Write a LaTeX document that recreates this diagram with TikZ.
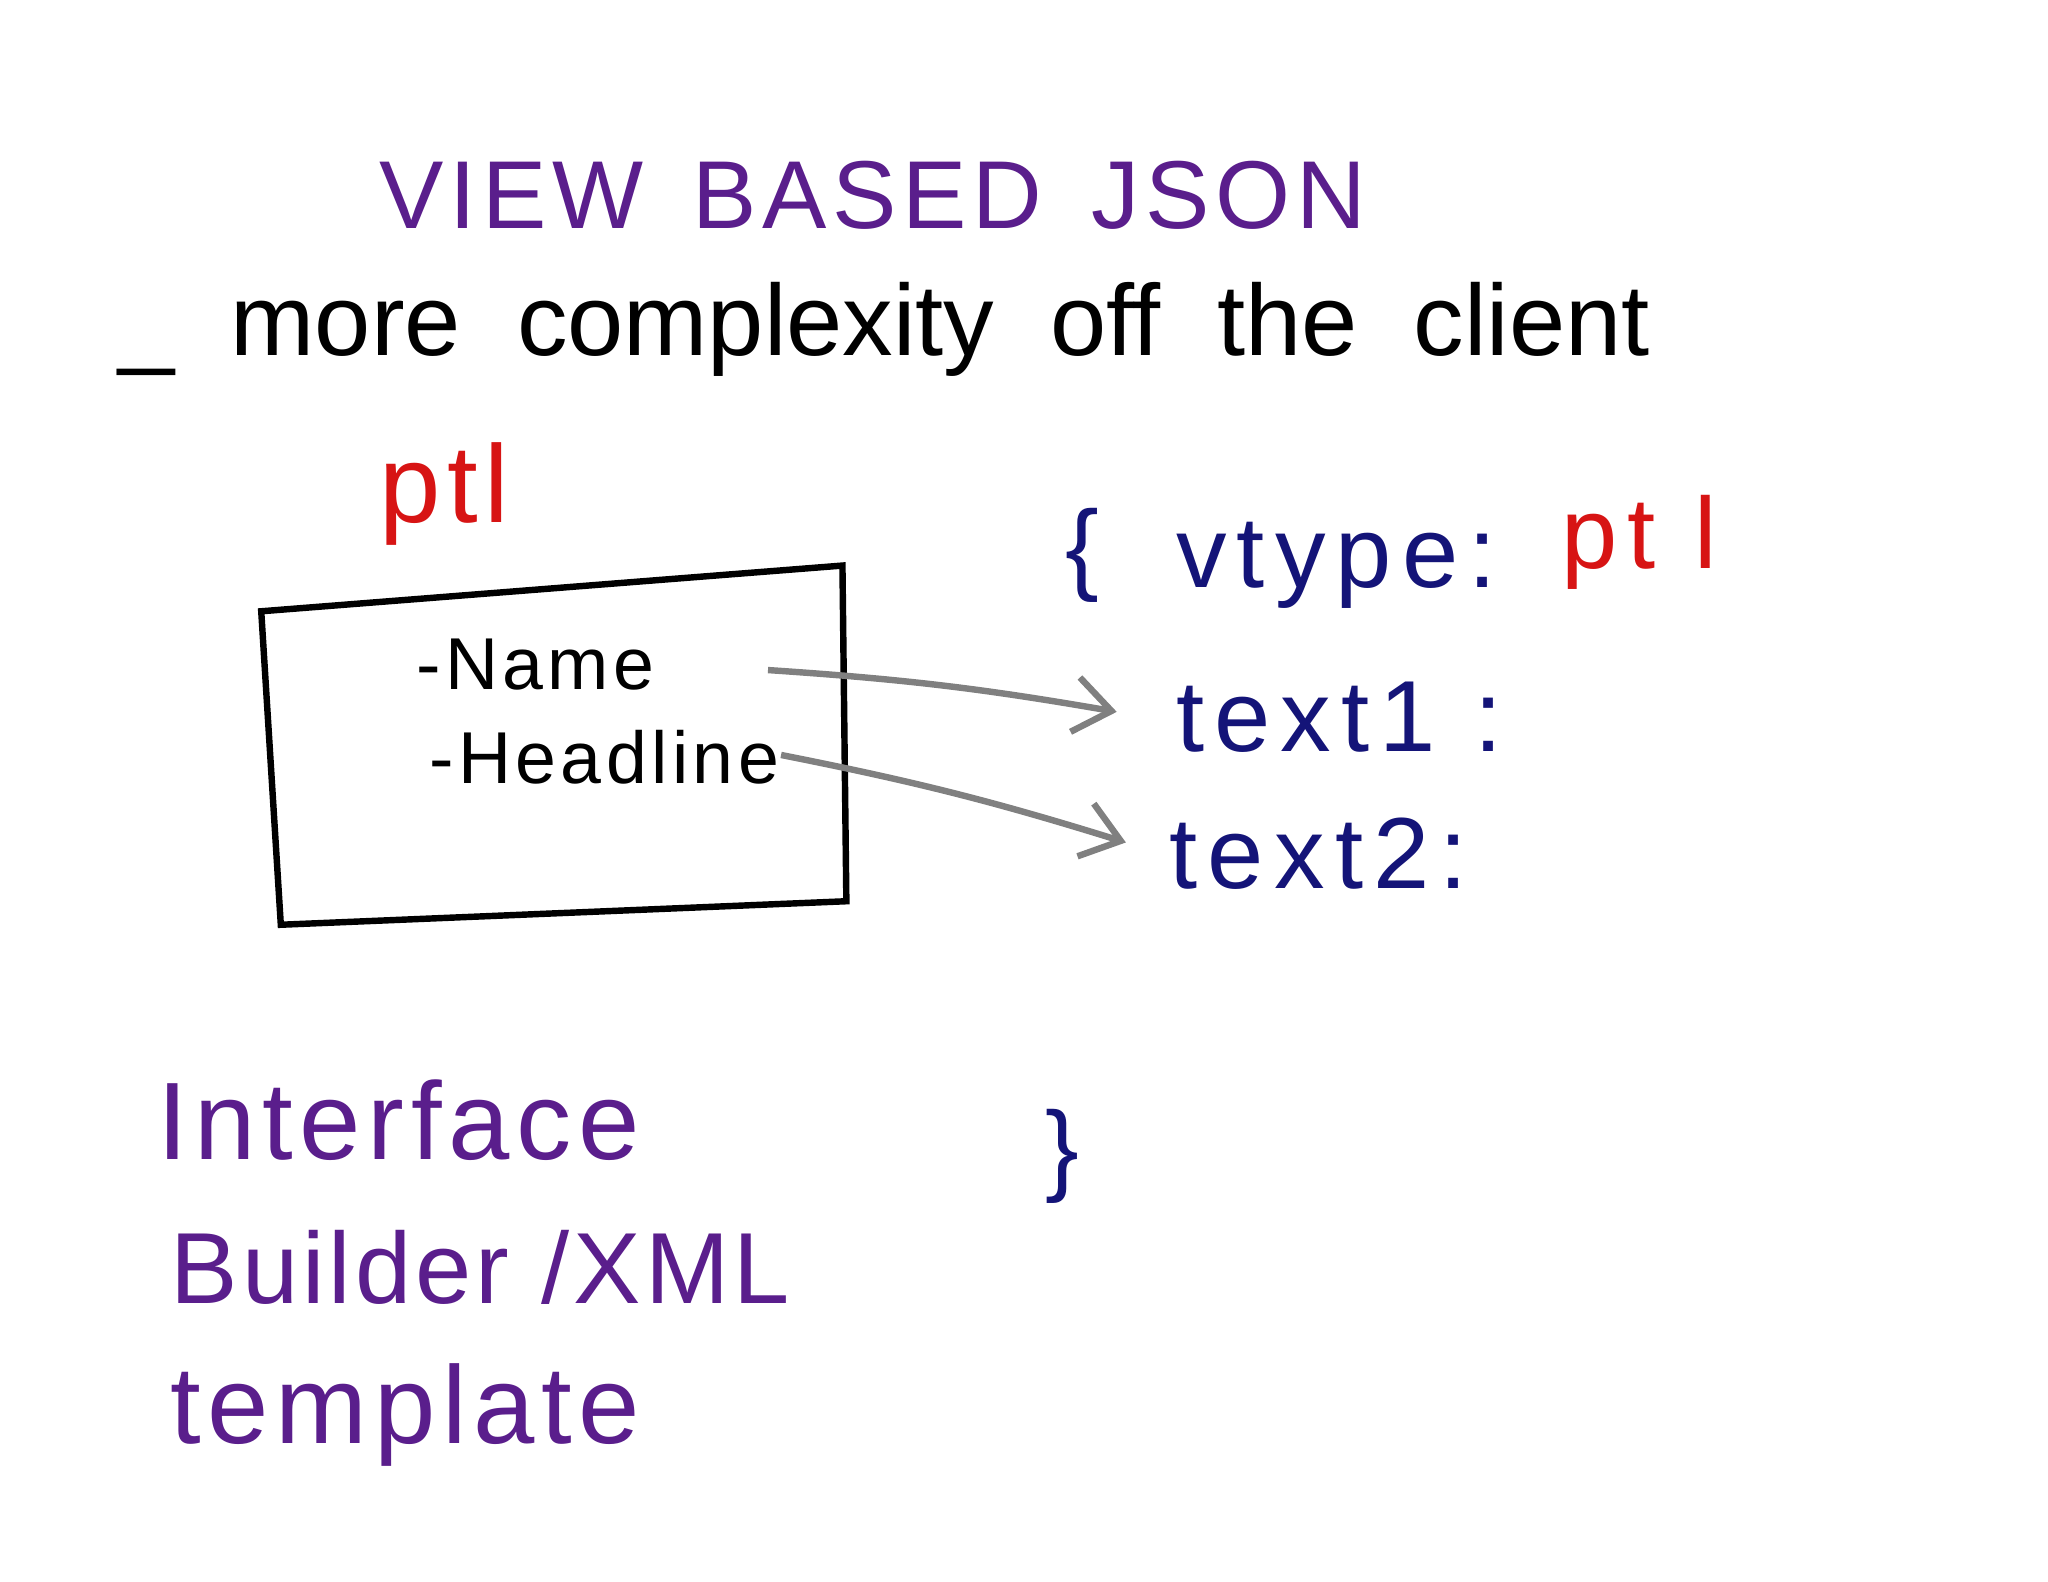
\documentclass[tikz,border=0pt]{standalone}
\usepackage{fontspec}
\setmainfont{Liberation Sans}
\usetikzlibrary{arrows.meta}
\definecolor{purp}{RGB}{90,30,140}
\definecolor{navy}{RGB}{20,20,120}
\definecolor{redd}{RGB}{215,20,20}
\tikzset{
  t/.style={anchor=base west,inner sep=0pt},
  ttl/.style={font=\fontsize{21}{21}\selectfont\addfontfeature{LetterSpace=6}},
  big/.style={font=\fontsize{24}{24}\selectfont\addfontfeature{LetterSpace=6}},
  json/.style={font=\fontsize{22}{22}\selectfont\addfontfeature{LetterSpace=10}},
  sub/.style={font=\fontsize{22}{22}\selectfont},
  mid/.style={font=\fontsize{16}{16}\selectfont\addfontfeature{LetterSpace=6}},
  arr/.style={draw=gray,line width=1.4pt,-{Straight Barb[length=8pt,width=12pt]}}
}
\begin{document}
\begin{tikzpicture}[x=0.01cm,y=-0.01cm]
\useasboundingbox[fill=white] (0,0) rectangle (1568,1211);
\node[t,ttl,purp] (title) at (290,175) {VIEW\, BASED\, JSON};
\node[t,sub] (sub) at (90,272) {\_ \ more \ complexity \ off \ the \ client};
\node[t,big,redd] (ptl) at (290,400) {ptl};
\draw[line width=1.4pt] (200,468) -- (645,433) -- (648,690) -- (215,708) -- cycle;
\node[t,mid] (name) at (318,528) {-Name};
\node[t,mid] (head) at (328,600) {-Headline};
\node[t,json,navy] (open) at (815,445) {\{};
\node[t,json,navy] (vt) at (900,450) {vtype:};
\node[t,json,redd] (p2) at (1195,435) {pt l};
\node[t,json,navy] (t1) at (900,575) {text1 :};
\node[t,json,navy] (t2) at (895,680) {text2:};
\node[t,json,navy] (close) at (800,905) {\}};
\coordinate (a1) at (588,513); \coordinate (b1) at (855,545);
\coordinate (a2) at (598,578); \coordinate (b2) at (862,645);
\draw[arr] (a1) to[bend left=3] (b1);
\draw[arr] (a2) to[bend left=3] (b2);
\node[t,big,purp] (i1) at (120,888) {Interface};
\node[t,big,purp,font=\fontsize{22}{22}\selectfont\addfontfeature{LetterSpace=4}] (i2) at (130,998) {Builder /XML};
\node[t,big,purp] (i3) at (130,1105) {template};
\end{tikzpicture}
\end{document}
